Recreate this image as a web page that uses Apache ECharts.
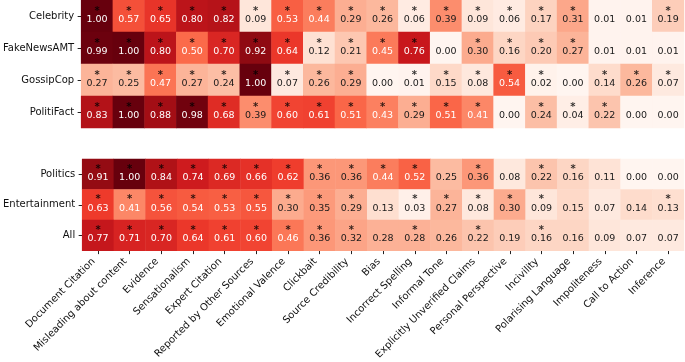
<!DOCTYPE html>
<html>
<head>
<meta charset="utf-8">
<script src="https://cdn.jsdelivr.net/npm/echarts@6/dist/echarts.min.js"></script>
<style>
  html, body { margin: 0; padding: 0; background: #fff; }
  #chart { width: 685px; height: 362px; }
</style>
</head>
<body>
<div id="chart"></div>
<script>
// columns (features)
const features = ['Document Citation', 'Misleading about content', 'Evidence', 'Sensationalism',
    'Expert Citation', 'Reported by Other Sources', 'Emotional Valence', 'Clickbait',
    'Source Credibility', 'Bias', 'Incorrect Spelling', 'Informal Tone',
    'Explicitly Unverified Claims', 'Personal Perspective', 'Incivility',
    'Polarising Language', 'Impoliteness', 'Call to Action', 'Inference']

// top block: datasets
const datasets = ['Celebrity', 'FakeNewsAMT', 'GossipCop', 'PolitiFact']
const celebrity = [1.00, 0.57, 0.65, 0.80, 0.82, 0.09, 0.53, 0.44, 0.29, 0.26, 0.06, 0.39, 0.09, 0.06, 0.17, 0.31, 0.01, 0.01, 0.19]
const fakeNewsAMT = [0.99, 1.00, 0.80, 0.50, 0.70, 0.92, 0.64, 0.12, 0.21, 0.45, 0.76, 0.00, 0.30, 0.16, 0.20, 0.27, 0.01, 0.01, 0.01]
const gossipCop = [0.27, 0.25, 0.47, 0.27, 0.24, 1.00, 0.07, 0.26, 0.29, 0.00, 0.01, 0.15, 0.08, 0.54, 0.02, 0.00, 0.14, 0.26, 0.07]
const politiFact = [0.83, 1.00, 0.88, 0.98, 0.68, 0.39, 0.60, 0.61, 0.51, 0.43, 0.29, 0.51, 0.41, 0.00, 0.24, 0.04, 0.22, 0.00, 0.00]

// significance markers (1 = *)
const celebrityStar = [1, 1, 1, 1, 1, 1, 1, 1, 1, 1, 1, 1, 1, 1, 1, 1, 0, 0, 1]
const fakeNewsAMTStar = [1, 1, 1, 1, 1, 1, 1, 1, 1, 1, 1, 0, 1, 1, 1, 1, 0, 0, 0]
const gossipCopStar = [1, 1, 1, 1, 1, 1, 1, 1, 1, 0, 1, 1, 1, 1, 1, 0, 1, 1, 1]
const politiFactStar = [1, 1, 1, 1, 1, 1, 1, 1, 1, 1, 1, 1, 1, 0, 1, 1, 1, 0, 0]

// bottom block: domains
const domains = ['Politics', 'Entertainment', 'All']
const politics = [0.91, 1.00, 0.84, 0.74, 0.69, 0.66, 0.62, 0.36, 0.36, 0.44, 0.52, 0.25, 0.36, 0.08, 0.22, 0.16, 0.11, 0.00, 0.00]
const entertainment = [0.63, 0.41, 0.56, 0.54, 0.53, 0.55, 0.30, 0.35, 0.29, 0.13, 0.03, 0.27, 0.08, 0.30, 0.09, 0.15, 0.07, 0.14, 0.13]
const all = [0.77, 0.71, 0.70, 0.64, 0.61, 0.60, 0.46, 0.36, 0.32, 0.28, 0.28, 0.26, 0.22, 0.19, 0.16, 0.16, 0.09, 0.07, 0.07]

const politicsStar = [1, 1, 1, 1, 1, 1, 1, 1, 1, 1, 1, 0, 1, 0, 1, 1, 0, 0, 0]
const entertainmentStar = [1, 1, 1, 1, 1, 1, 1, 1, 1, 0, 1, 1, 1, 1, 1, 0, 0, 0, 1]
const allStar = [1, 1, 1, 1, 1, 1, 1, 1, 1, 0, 1, 0, 1, 0, 1, 0, 0, 0, 0]

const reds = ['#fff5f0', '#fee0d2', '#fcbba1', '#fc9272', '#fb6a4a', '#ef3b2c', '#cb181d', '#a50f15', '#67000d']
const font = 'DejaVu Sans'

function buildData(rows) {
    let out = []
    rows.forEach((row, r) => {
        row.forEach((v, c) => {
            out.push([c, r, v])
        })
    })
    return out
}

function buildStars(stars) {
    let out = []
    stars.forEach((row, r) => {
        row.forEach((s, c) => {
            if (s) out.push([c, r])
        })
    })
    return out
}

const topData = buildData([celebrity, fakeNewsAMT, gossipCop, politiFact])
const bottomData = buildData([politics, entertainment, all])
const topStars = buildStars([celebrityStar, fakeNewsAMTStar, gossipCopStar, politiFactStar])
const bottomStars = buildStars([politicsStar, entertainmentStar, allStar])

const valueLabel = {
    show: true,
    offset: [0, 3.5],
    fontFamily: font,
    fontSize: 9.5,
    formatter: function (p) {
        let cls = p.value[2] >= 0.4 ? 'w' : 'k'
        return '{' + cls + '|' + p.value[2].toFixed(2) + '}'
    },
    rich: {
        w: { fontFamily: font, fontSize: 9.5, color: '#fff' },
        k: { fontFamily: font, fontSize: 9.5, color: '#1a1a1a' }
    }
}

const starSeries = (data, idx) => ({
    type: 'scatter',
    xAxisIndex: idx,
    yAxisIndex: idx,
    data: data,
    symbolSize: 1,
    itemStyle: { color: 'rgba(0,0,0,0)' },
    silent: true,
    z: 5,
    label: {
        show: true,
        position: 'inside',
        formatter: '*',
        offset: [0, -5],
        fontFamily: font,
        fontSize: 10,
        fontWeight: 'bold',
        color: '#000'
    }
})

const tickStyle = { show: true, alignWithLabel: true, length: 3.5, lineStyle: { color: '#222', width: 1 } }

const chart = echarts.init(document.getElementById('chart'))
chart.setOption({
    animation: false,
    textStyle: { fontFamily: font },
    grid: [
        { left: 77, right: 1, top: 0, height: 128 },
        { left: 77, right: 1, top: 159, height: 96 }
    ],
    xAxis: [{
        type: 'category',
        gridIndex: 0,
        data: features,
        axisLine: { show: false },
        axisTick: { show: false },
        axisLabel: { show: false },
        splitLine: { show: false }
    }, {
        type: 'category',
        gridIndex: 1,
        data: features,
        axisLine: { show: false },
        axisTick: tickStyle,
        axisLabel: { rotate: 45, fontSize: 10, color: '#111', margin: 5, interval: 0, fontFamily: font, padding: [0, 6, 0, 0] },
        splitLine: { show: false }
    }],
    yAxis: [{
        type: 'category',
        gridIndex: 0,
        inverse: true,
        data: datasets,
        axisLine: { show: false },
        axisTick: tickStyle,
        axisLabel: { fontSize: 10, color: '#111', margin: 7, fontFamily: font }
    }, {
        type: 'category',
        gridIndex: 1,
        inverse: true,
        data: domains,
        axisLine: { show: false },
        axisTick: tickStyle,
        axisLabel: { fontSize: 10, color: '#111', margin: 7, fontFamily: font }
    }],
    visualMap: {
        show: false,
        type: 'continuous',
        min: 0,
        max: 1,
        dimension: 2,
        seriesIndex: [0, 1],
        inRange: { color: reds }
    },
    series: [{
        type: 'heatmap',
        xAxisIndex: 0,
        yAxisIndex: 0,
        data: topData,
        label: valueLabel,
        emphasis: { disabled: true }
    }, {
        type: 'heatmap',
        xAxisIndex: 1,
        yAxisIndex: 1,
        data: bottomData,
        label: valueLabel,
        emphasis: { disabled: true }
    },
    starSeries(topStars, 0),
    starSeries(bottomStars, 1)]
})
</script>
</body>
</html>
